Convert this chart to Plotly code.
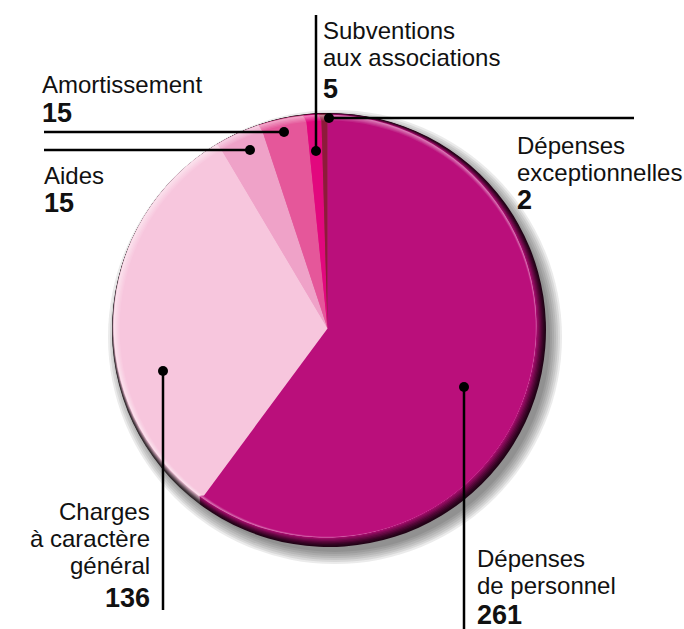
import math
import plotly.graph_objects as go

labels = ["Dépenses de personnel", "Charges à caractère général", "Aides",
          "Amortissement", "Subventions aux associations", "Dépenses exceptionnelles"]
values = [261, 136, 15, 15, 5, 2]
colors = ["#BA0F7B", "#F7C6DD", "#EFA2C8", "#E5579A", "#E2087E", "#8E1A3A"]

W, H = 684, 629
CX, CY, R = 329, 330, 217


def hex2rgb(h):
    h = h.lstrip("#")
    return tuple(int(h[i:i + 2], 16) for i in (0, 2, 4))


def blend(c1, c2, t):
    a, b = hex2rgb(c1), hex2rgb(c2)
    return "#%02x%02x%02x" % tuple(round(a[i] + (b[i] - a[i]) * t) for i in range(3))


def shade(c, f):
    a = hex2rgb(c)
    return "#%02x%02x%02x" % tuple(round(v * f) for v in a)


def dom(cx, cy, r):
    return dict(x=[(cx - r) / W, (cx + r) / W], y=[1 - (cy + r) / H, 1 - (cy - r) / H])


fig = go.Figure()


def add_pie(vals, cols, d, op=1.0, hover="skip"):
    fig.add_trace(go.Pie(values=vals, labels=labels[:len(vals)], sort=False, direction="clockwise",
                         rotation=0, textinfo="none", hoverinfo=hover, showlegend=False,
                         marker=dict(colors=cols, line=dict(width=0)),
                         opacity=op, domain=d))


# soft drop shadow
for extra in [10, 8, 6, 4, 2, 0, -2]:
    add_pie([sum(values)], ["#222222"], dom(CX + 6, CY + 7, R + extra), 0.09)

# dark rim (bottom-right) gradient
u = 1 / math.sqrt(2)
n, a = 8, 5.6 / 8
dark = [shade(c, 0.18) for c in colors]
for j in range(n + 1):
    t = (j / n) ** 1.3
    cols = [blend(dk, c, t) for dk, c in zip(dark, colors)]
    off = -j * a * u
    add_pie(values, cols, dom(CX + off, CY + off, R - j * a))

# light highlight (top-left) gradient
m, b = 5, 3.5 / 5
base_off = -n * a * u
base_r = R - n * a
for k in range(m + 1):
    t = k / m
    cols = [blend(blend(c, "#FFFFFF", 0.45), c, t) for c in colors]
    off = base_off + k * b * u
    add_pie(values, cols, dom(CX + off, CY + off, base_r - k * b),
            hover="label+value" if k == m else "skip")

# leader lines: (x0, y0, x1, y1) in pixel space, dot at (x1, y1)
leaders = [
    (44, 132, 284, 132),     # Amortissement
    (44, 150, 250, 150),     # Aides
    (316, 15, 316, 151),     # Subventions
    (634, 118, 329, 118),    # Dépenses exceptionnelles
    (163, 610, 163, 371),    # Charges
    (464, 629, 464, 387),    # Personnel
]

shapes = []
for x0, y0, x1, y1 in leaders:
    shapes.append(dict(type="line", xref="x", yref="y", x0=x0, y0=y0, x1=x1, y1=y1,
                       line=dict(color="black", width=2.5)))
    shapes.append(dict(type="circle", xref="x", yref="y", x0=x1 - 5, y0=y1 - 5,
                       x1=x1 + 5, y1=y1 + 5, fillcolor="black", line=dict(width=0)))

REG = dict(family="Liberation Sans, Arial, sans-serif", size=24, color="#111111")
BOLD = dict(family="Liberation Sans, Arial, sans-serif", size=27, color="#111111")

text_lines = [
    # (text, x, y_center, anchor, bold)
    ("Amortissement", 40, 84, "left", False),
    ("<b>15</b>", 40, 113, "left", True),
    ("Aides", 42, 175, "left", False),
    ("<b>15</b>", 42, 203, "left", True),
    ("Subventions", 321, 30, "left", False),
    ("aux associations", 321, 57, "left", False),
    ("<b>5</b>", 321, 89, "left", True),
    ("Dépenses", 515, 145, "left", False),
    ("exceptionnelles", 515, 172, "left", False),
    ("<b>2</b>", 515, 200, "left", True),
    ("Charges", 152, 511, "right", False),
    ("à caractère", 152, 538, "right", False),
    ("général", 152, 565, "right", False),
    ("<b>136</b>", 152, 598, "right", True),
    ("Dépenses", 475, 558, "left", False),
    ("de personnel", 475, 585, "left", False),
    ("<b>261</b>", 475, 615, "left", True),
]

annotations = []
for t, x, y, anc, bld in text_lines:
    annotations.append(dict(text=t, x=x, y=y, xref="x", yref="y", xanchor=anc,
                            yanchor="middle", showarrow=False, font=BOLD if bld else REG))

fig.update_layout(
    width=W, height=H, margin=dict(l=0, r=0, t=0, b=0),
    paper_bgcolor="white", plot_bgcolor="rgba(0,0,0,0)",
    xaxis=dict(range=[0, W], visible=False, fixedrange=True),
    yaxis=dict(range=[H, 0], visible=False, fixedrange=True),
    shapes=shapes, annotations=annotations,
)

fig.write_html("out.html", config={"displayModeBar": False},
               post_script="document.body.style.margin='0';document.body.style.overflow='hidden';")
